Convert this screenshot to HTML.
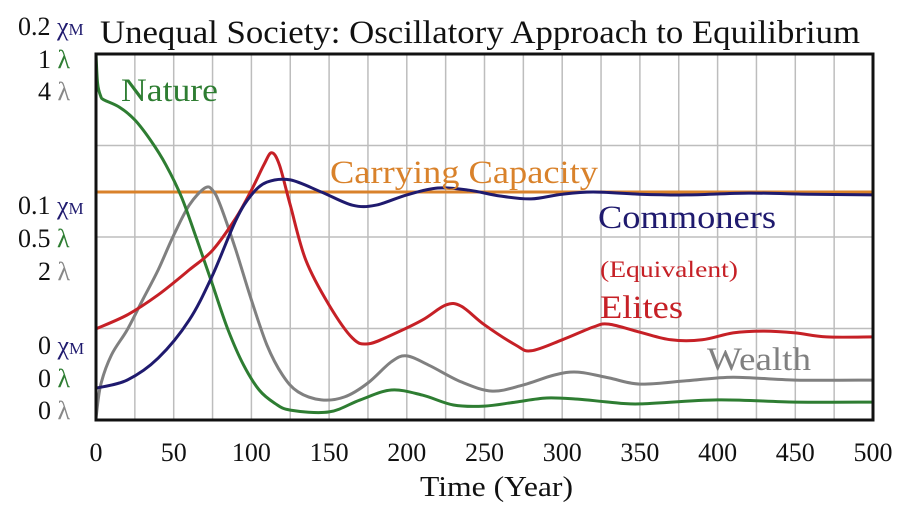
<!DOCTYPE html>
<html><head><meta charset="utf-8"><style>
body{margin:0;background:#fff;}
svg{display:block;font-family:"Liberation Serif",serif;}
</style></head><body>
<svg id="chart" width="897" height="505" viewBox="0 0 897 505" xmlns="http://www.w3.org/2000/svg">
<g id="grid"></g>
<g id="series"></g>
<rect x="96" y="54" width="777" height="366" fill="none" stroke="#111" stroke-width="3"/>
<text x="100" y="43" font-size="33" fill="#111" textLength="760" lengthAdjust="spacingAndGlyphs">Unequal Society: Oscillatory Approach to Equilibrium</text>
<g font-size="26" fill="#111">
<text x="18" y="35">0.2 <tspan fill="#1f1a6e">χ<tspan font-size="17">M</tspan></tspan></text>
<text x="38" y="68">1 <tspan fill="#2e7d32">λ</tspan></text>
<text x="38" y="100">4 <tspan fill="#888">λ</tspan></text>
<text x="18" y="214">0.1 <tspan fill="#1f1a6e">χ<tspan font-size="17">M</tspan></tspan></text>
<text x="18" y="247">0.5 <tspan fill="#2e7d32">λ</tspan></text>
<text x="38" y="280">2 <tspan fill="#888">λ</tspan></text>
<text x="38" y="354">0 <tspan fill="#1f1a6e">χ<tspan font-size="17">M</tspan></tspan></text>
<text x="38" y="387">0 <tspan fill="#2e7d32">λ</tspan></text>
<text x="38" y="419">0 <tspan fill="#888">λ</tspan></text>
</g>
<g id="xticks" font-size="26" fill="#111" text-anchor="middle"></g>
<text x="420" y="496" font-size="28" fill="#111" textLength="153" lengthAdjust="spacingAndGlyphs">Time (Year)</text>
<text x="121" y="101" font-size="33" fill="#2e7d32" textLength="97" lengthAdjust="spacingAndGlyphs">Nature</text>
<text x="330" y="183" font-size="33" fill="#d9822b" textLength="268" lengthAdjust="spacingAndGlyphs">Carrying Capacity</text>
<text x="598" y="228" font-size="33" fill="#1f1a6e" textLength="178" lengthAdjust="spacingAndGlyphs">Commoners</text>
<text x="600" y="277" font-size="23" fill="#c62026" textLength="138" lengthAdjust="spacingAndGlyphs">(Equivalent)</text>
<text x="600" y="318" font-size="33" fill="#c62026" textLength="83" lengthAdjust="spacingAndGlyphs">Elites</text>
<text x="707" y="370" font-size="33" fill="#808080" textLength="104" lengthAdjust="spacingAndGlyphs">Wealth</text>
</svg>
<script>
// values normalized 0..1 of the plot height
const xTicks=[0,50,100,150,200,250,300,350,400,450,500];
const carryingCapacity=0.623;
const natureT=[0,1,3,5,15,25,35,45,55,65,75,85,95,105,115,125,150,170,190,210,230,250,270,290,310,330,350,400,450,500];
const natureV=[1.0,0.92,0.885,0.875,0.855,0.82,0.765,0.697,0.609,0.492,0.369,0.246,0.15,0.082,0.046,0.027,0.022,0.055,0.082,0.068,0.041,0.038,0.049,0.06,0.057,0.049,0.044,0.055,0.049,0.049];
const wealthT=[0,3,10,20,30,40,50,60,70,75,80,90,100,110,120,130,145,160,175,190,200,215,235,255,275,295,310,330,350,380,410,450,500];
const wealthV=[0.005,0.096,0.178,0.246,0.328,0.41,0.505,0.587,0.634,0.628,0.587,0.464,0.328,0.205,0.123,0.077,0.055,0.063,0.101,0.159,0.175,0.148,0.104,0.079,0.096,0.123,0.131,0.115,0.098,0.107,0.117,0.109,0.109];
const elitesT=[0,20,40,60,75,90,100,108,113,118,125,135,150,165,175,190,210,225,235,250,270,280,300,320,330,350,370,390,410,430,450,470,500];
const elitesV=[0.249,0.287,0.342,0.41,0.464,0.552,0.628,0.697,0.73,0.697,0.587,0.437,0.314,0.224,0.208,0.232,0.273,0.314,0.311,0.26,0.205,0.189,0.219,0.254,0.262,0.24,0.219,0.219,0.238,0.243,0.238,0.227,0.227];
const commonersT=[0,20,40,60,75,90,100,110,125,145,165,180,200,220,240,260,280,300,320,350,380,420,460,500];
const commonersV=[0.087,0.109,0.169,0.273,0.396,0.546,0.615,0.65,0.656,0.623,0.587,0.587,0.615,0.634,0.628,0.612,0.604,0.617,0.623,0.617,0.615,0.62,0.617,0.615];

const X0=96,X1=873,Y0=420,Y1=54;
const xs=t=>X0+(t/500)*(X1-X0);
const ys=v=>Y0-v*(Y0-Y1);
const NS="http://www.w3.org/2000/svg";
const grid=document.getElementById('grid');
for(let t=25;t<500;t+=25){
  const l=document.createElementNS(NS,'line');
  
  
  l.setAttribute('x1',xs(t));l.setAttribute('x2',xs(t));l.setAttribute('y1',Y1);l.setAttribute('y2',Y0);
  l.setAttribute('stroke','#bdbdbd');l.setAttribute('stroke-width','1.5');grid.appendChild(l);
}
[0.25,0.5,0.75].forEach(v=>{
  const l=document.createElementNS(NS,'line');
  
  
  l.setAttribute('x1',X0);l.setAttribute('x2',X1);l.setAttribute('y1',ys(v));l.setAttribute('y2',ys(v));
  l.setAttribute('stroke','#bdbdbd');l.setAttribute('stroke-width','1.5');grid.appendChild(l);
});
const xt=document.getElementById('xticks');
xTicks.forEach(t=>{
  const e=document.createElementNS(NS,'text');
  
  
  e.setAttribute('x',xs(t));e.setAttribute('y',461);e.textContent=t;xt.appendChild(e);
});
const ser=document.getElementById('series');
function line(T,V,color,name){
  const p=document.createElementNS(NS,'path');
  const P=T.map((t,i)=>[xs(t),ys(V[i])]);
  let d='M'+P[0][0].toFixed(1)+','+P[0][1].toFixed(1);
  for(let i=0;i<P.length-1;i++){
    const p0=P[Math.max(0,i-1)],p1=P[i],p2=P[i+1],p3=P[Math.min(P.length-1,i+2)];
    const c1=[p1[0]+(p2[0]-p0[0])/6,p1[1]+(p2[1]-p0[1])/6];
    const c2=[p2[0]-(p3[0]-p1[0])/6,p2[1]-(p3[1]-p1[1])/6];
    d+='C'+c1[0].toFixed(1)+','+c1[1].toFixed(1)+' '+c2[0].toFixed(1)+','+c2[1].toFixed(1)+' '+p2[0].toFixed(1)+','+p2[1].toFixed(1);
  }
  p.setAttribute('d',d);p.setAttribute('fill','none');p.setAttribute('stroke',color);
  p.setAttribute('stroke-width','3');p.setAttribute('stroke-linejoin','round');
  
  
  ser.appendChild(p);
}
line([0,500],[carryingCapacity,carryingCapacity],'#d9822b','carrying-capacity-line');
line(wealthT,wealthV,'#808080','wealth-line');
line(natureT,natureV,'#2e7d32','nature-line');
line(elitesT,elitesV,'#c62026','elites-line');
line(commonersT,commonersV,'#1f1a6e','commoners-line');
</script>
</body></html>
